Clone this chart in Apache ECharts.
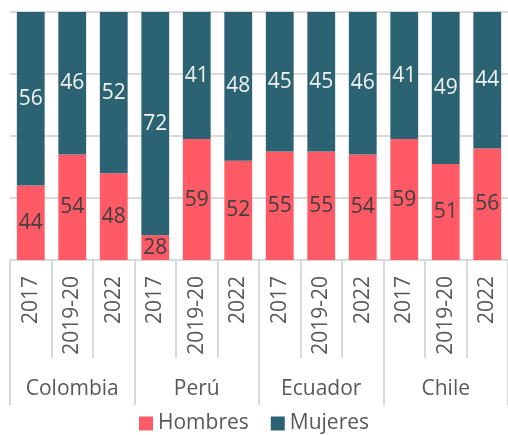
<!DOCTYPE html>
<html>
<head>
<meta charset="utf-8">
<script src="https://cdn.jsdelivr.net/npm/echarts@6/dist/echarts.min.js"></script>
<style>
  html, body { margin: 0; padding: 0; background: #fff; }
  #chart { width: 508px; height: 435px; }
</style>
</head>
<body>
<div id="chart"></div>
<script>
// años por país y participación (%) de hombres / mujeres
var years = ['2017', '2019-20', '2022', '2017', '2019-20', '2022', '2017', '2019-20', '2022', '2017', '2019-20', '2022'];
var countries = ['Colombia', 'Perú', 'Ecuador', 'Chile'];
var hombres = [44, 54, 48, 28, 59, 52, 55, 55, 54, 59, 51, 56];
var mujeres = [56, 46, 52, 72, 41, 48, 45, 45, 46, 41, 49, 44];

var font = '"Open Sans", sans-serif';
var gray = '#595959';
var lineGray = '#D9D9D9';

var option = {
    animation: false,
    color: ['#FF5A65', '#2C6372'],
    grid: {
        left: 10,
        right: -1,
        top: 12,
        bottom: 175
    },
    legend: {
        data: ['Hombres', 'Mujeres'],
        bottom: -4,
        left: 'center',
        icon: 'rect',
        itemWidth: 14,
        itemHeight: 14,
        itemGap: 22,
        textStyle: { fontFamily: font, fontSize: 21, color: gray }
    },
    xAxis: [{
        type: 'category',
        data: years,
        axisLine: { show: true, lineStyle: { color: lineGray, width: 2 } },
        axisTick: { show: true, interval: 0, length: 98, lineStyle: { color: lineGray, width: 2 } },
        axisLabel: {
            interval: 0,
            rotate: 90,
            margin: 16,
            fontFamily: font,
            fontSize: 21,
            color: gray
        }
    }, {
        type: 'category',
        data: countries,
        position: 'bottom',
        axisLine: { show: false },
        axisTick: { show: true, interval: 0, length: 145, lineStyle: { color: lineGray, width: 2 } },
        axisLabel: {
            interval: 0,
            margin: 119,
            fontFamily: font,
            fontSize: 21,
            color: gray
        }
    }],
    yAxis: {
        type: 'value',
        min: 20,
        max: 100,
        interval: 20,
        axisLine: { show: false },
        axisTick: { show: false },
        axisLabel: { show: false },
        splitLine: { lineStyle: { color: lineGray, width: 2 } }
    },
    series: [{
        name: 'Hombres',
        type: 'bar',
        stack: 'total',
        barWidth: '67%',
        data: hombres,
        label: {
            show: true,
            position: 'inside',
            fontFamily: font,
            fontSize: 21,
            color: '#404040'
        }
    }, {
        name: 'Mujeres',
        type: 'bar',
        stack: 'total',
        barWidth: '67%',
        data: mujeres,
        label: {
            show: true,
            position: 'inside',
            fontFamily: font,
            fontSize: 21,
            color: '#F2F2F2'
        }
    }]
};

var myChart = echarts.init(document.getElementById('chart'));
myChart.setOption(option);
</script>
</body>
</html>
